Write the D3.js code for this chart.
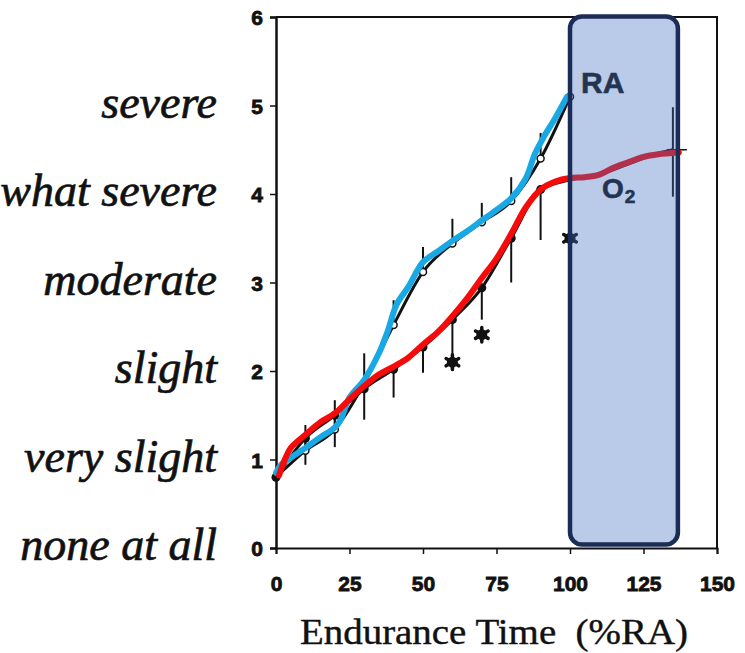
<!DOCTYPE html>
<html>
<head>
<meta charset="utf-8">
<script src="https://cdn.jsdelivr.net/npm/d3@7"></script>
<style>
  html,body{margin:0;padding:0;background:#fff;}
  svg{display:block;}
</style>
</head>
<body>
<svg id="chart" width="745" height="653"></svg>
<script>
// ---------- data ----------
const xTicks = [0, 25, 50, 75, 100, 125, 150];
const yTicks = [0, 1, 2, 3, 4, 5, 6];
const categoryValues = [0, 1, 2, 3, 4, 5];
const categoryLabels = ["none at all", "very slight", "slight", "moderate", "somewhat severe", "severe"];

// highlighted (coloured) traces
const raTraceX = [0, 2, 5, 10, 15, 20, 22, 25, 30, 35, 38, 41, 45, 50, 55, 60, 65, 70, 75, 80, 85, 88, 91, 95, 99];
const raTraceY = [0.85, 0.95, 1.02, 1.13, 1.25, 1.36, 1.45, 1.7, 1.9, 2.2, 2.45, 2.75, 2.95, 3.23, 3.35, 3.47, 3.58, 3.7, 3.82, 3.95, 4.18, 4.45, 4.64, 4.86, 5.1];
const o2TraceX = [1, 3, 5, 10, 15, 20, 25, 30, 35, 40, 45, 50, 55, 60, 65, 70, 75, 80, 85, 90, 95, 100, 105, 110, 115, 120, 125, 130, 137];
const o2TraceY = [0.82, 1.0, 1.13, 1.28, 1.42, 1.52, 1.68, 1.83, 1.96, 2.05, 2.15, 2.3, 2.44, 2.62, 2.82, 3.05, 3.27, 3.55, 3.85, 4.05, 4.14, 4.18, 4.19, 4.22, 4.3, 4.36, 4.42, 4.45, 4.47];

// original (black) data
const raX = [0, 10, 20, 30, 40, 50, 60, 70, 80, 90, 100];
const raMean = [0.8, 1.1, 1.34, 1.86, 2.52, 3.12, 3.44, 3.68, 3.92, 4.4, 5.1];
const raUpper = [0.8, 1.39, 1.67, 2.2, 2.8, 3.4, 3.72, 3.9, 4.19, 4.69, 5.1];
const o2X = [0, 10, 20, 30, 40, 50, 60, 70, 80, 90, 100, 110, 120, 130, 135];
const o2Mean = [0.8, 1.24, 1.5, 1.8, 2.02, 2.27, 2.58, 2.94, 3.5, 4.05, 4.16, 4.22, 4.34, 4.46, 4.5];
const o2Lower = [0.8, 0.94, 1.14, 1.45, 1.7, 1.98, 2.0, 2.58, 3.0, 3.48, 4.16, 4.22, 4.34, 4.46, 3.97];
const o2Upper = [0.8, 1.24, 1.5, 1.8, 2.02, 2.27, 2.58, 2.94, 3.5, 4.05, 4.16, 4.22, 4.34, 4.46, 4.98];
const starX = [60, 70, 100];
const starY = [2.1, 2.41, 3.5];
const boxRange = [100, 136.7];

// ---------- drawing ----------
const svg = d3.select("#chart");
const x = d3.scaleLinear().domain([0, 150]).range([276, 717]);
const y = d3.scaleLinear().domain([0, 6]).range([548, 17]);

const black = "#111";

// frame top & right
svg.append("path")
  .attr("d", `M${x(0)},${y(6)}H${x(150)}V${y(0)}`)
  .attr("fill", "none").attr("stroke", black).attr("stroke-width", 2);

// y axis
const yAxis = svg.append("g").attr("transform", `translate(${x(0)},0)`)
  .call(d3.axisLeft(y).tickValues(yTicks).tickSize(6).tickPadding(7).tickFormat(d3.format("d")));
yAxis.select(".domain").attr("stroke", black).attr("stroke-width", 2.5);
yAxis.selectAll(".tick line").attr("stroke", black).attr("stroke-width", 1.5);
yAxis.selectAll(".tick text")
  .attr("font-family", "Liberation Sans, Arial, sans-serif")
  .attr("font-weight", "bold").attr("font-size", 21).attr("fill", black)
  .attr("stroke", black).attr("stroke-width", 0.8).attr("dy", "0.36em");

// x axis
const xAxis = svg.append("g").attr("transform", `translate(0,${y(0)})`)
  .call(d3.axisBottom(x).tickValues(xTicks).tickSize(6).tickPadding(22).tickFormat(d3.format("d")));
xAxis.select(".domain").attr("stroke", black).attr("stroke-width", 2);
xAxis.selectAll(".tick line").attr("stroke", black).attr("stroke-width", 1.5);
xAxis.selectAll(".tick text")
  .attr("font-family", "Liberation Sans, Arial, sans-serif")
  .attr("font-weight", "bold").attr("font-size", 21).attr("fill", black)
  .attr("stroke", black).attr("stroke-width", 0.8);

// category labels
svg.append("g").selectAll("text").data(categoryValues).join("text")
  .attr("x", 217).attr("y", d => y(d) + 12)
  .attr("text-anchor", "end")
  .attr("font-family", "Liberation Serif, Times New Roman, serif")
  .attr("font-style", "italic").attr("font-size", 46).attr("fill", black)
  .attr("stroke", black).attr("stroke-width", 0.7)
  .text((d, i) => categoryLabels[i]);

// axis title
svg.append("text").attr("x", 494).attr("y", 644).attr("text-anchor", "middle")
  .attr("font-family", "Liberation Serif, Times New Roman, serif")
  .attr("font-size", 36).attr("fill", black)
  .attr("stroke", black).attr("stroke-width", 0.4)
  .attr("textLength", 388).attr("lengthAdjust", "spacingAndGlyphs")
  .text("Endurance Time\u00a0\u00a0(%RA)");

// original black data: error bars
const raPts = raX.map((d, i) => ({x: d, m: raMean[i], hi: raUpper[i]}));
const o2Pts = o2X.map((d, i) => ({x: d, m: o2Mean[i], lo: o2Lower[i], hi: o2Upper[i]}));
svg.append("g").selectAll("line").data(raPts).join("line")
  .attr("x1", d => x(d.x)).attr("x2", d => x(d.x))
  .attr("y1", d => y(d.m)).attr("y2", d => y(d.hi))
  .attr("stroke", black).attr("stroke-width", 2);
svg.append("g").selectAll("line").data(o2Pts).join("line")
  .attr("x1", d => x(d.x)).attr("x2", d => x(d.x))
  .attr("y1", d => y(d.hi)).attr("y2", d => y(d.lo))
  .attr("stroke", black).attr("stroke-width", 2);
// end dash for O2
svg.append("line")
  .attr("x1", x(o2X[o2X.length - 1]) - 6).attr("x2", x(o2X[o2X.length - 1]) + 14)
  .attr("y1", y(o2Mean[o2Mean.length - 1])).attr("y2", y(o2Mean[o2Mean.length - 1]))
  .attr("stroke", black).attr("stroke-width", 1.5);

// original black lines
const lineStraight = d3.line().x(d => x(d.x)).y(d => y(d.m)).curve(d3.curveMonotoneX);
svg.append("path").datum(raPts).attr("d", lineStraight)
  .attr("fill", "none").attr("stroke", black).attr("stroke-width", 3);
svg.append("path").datum(o2Pts).attr("d", lineStraight)
  .attr("fill", "none").attr("stroke", black).attr("stroke-width", 3);

// markers
svg.append("g").selectAll("circle").data(o2Pts.slice(0, 10)).join("circle")
  .attr("cx", d => x(d.x)).attr("cy", d => y(d.m)).attr("r", 4.5).attr("fill", black);
svg.append("g").selectAll("circle").data(raPts.slice(1)).join("circle")
  .attr("cx", d => x(d.x)).attr("cy", d => y(d.m)).attr("r", 3.5)
  .attr("fill", "#fff").attr("stroke", black).attr("stroke-width", 1.5);

// asterisks (blobby, as in the scan)
const starData = starX.map((d, i) => ({x: d, y: starY[i]}));
const ast = d3.symbol().type(d3.symbolAsterisk).size(150);
const sg = svg.append("g").selectAll("g").data(starData).join("g")
  .attr("transform", d => `translate(${x(d.x)},${y(d.y)})`);
sg.append("circle").attr("r", 5.5).attr("fill", black);
sg.append("path").attr("d", ast).attr("fill", "none").attr("stroke", black)
  .attr("stroke-width", 3.5).attr("stroke-linecap", "round");

// coloured traces
const curve = d3.line().x(d => x(d[0])).y(d => y(d[1])).curve(d3.curveCatmullRom.alpha(0.5));
svg.append("path").datum(raTraceX.map((d, i) => [d, raTraceY[i]])).attr("d", curve)
  .attr("fill", "none").attr("stroke", "#18a8e4").attr("stroke-width", 6)
  .attr("stroke-linecap", "round").attr("stroke-linejoin", "round");
svg.append("path").datum(o2TraceX.map((d, i) => [d, o2TraceY[i]])).attr("d", curve)
  .attr("fill", "none").attr("stroke", "#f60a0a").attr("stroke-width", 6)
  .attr("stroke-linecap", "round").attr("stroke-linejoin", "round");

// series labels
svg.append("text").attr("x", 581).attr("y", 93)
  .attr("font-family", "Liberation Sans, Arial, sans-serif").attr("font-weight", "bold")
  .attr("font-size", 30).attr("fill", black).attr("stroke", black).attr("stroke-width", 0.6).text("RA");
const o2t = svg.append("text").attr("x", 602).attr("y", 198)
  .attr("font-family", "Liberation Sans, Arial, sans-serif").attr("font-weight", "bold")
  .attr("font-size", 28).attr("fill", black).attr("stroke", black).attr("stroke-width", 0.6);
o2t.append("tspan").text("O");
o2t.append("tspan").attr("font-size", 19).attr("dy", 5).attr("dx", 1).text("2");

// highlight box (semi-transparent overlay)
svg.append("rect")
  .attr("x", x(boxRange[0])).attr("y", y(6) - 0.5)
  .attr("width", x(boxRange[1]) - x(boxRange[0]))
  .attr("height", y(0) - y(6) - 3)
  .attr("rx", 12).attr("ry", 12)
  .attr("fill", "#4273c1").attr("fill-opacity", 0.37)
  .attr("stroke", "#1b2d57").attr("stroke-width", 4.5);
</script>
</body>
</html>
